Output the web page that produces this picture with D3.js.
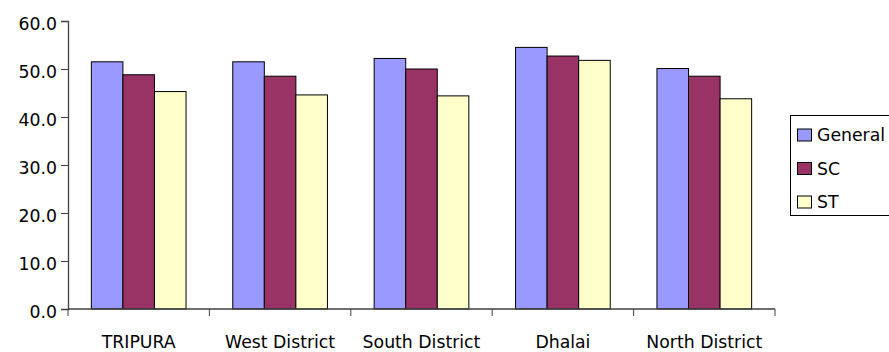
<!DOCTYPE html>
<html>
<head>
<meta charset="utf-8">
<script src="https://cdn.jsdelivr.net/npm/d3@7"></script>
<style>
  html, body { margin: 0; padding: 0; background: #fff; }
  svg { display: block; font-family: "DejaVu Sans", sans-serif; }
</style>
</head>
<body>
<svg id="chart" width="889" height="352"></svg>
<script>
// Categories and series values
const categories = ["TRIPURA", "West District", "South District", "Dhalai", "North District"];
const seriesNames = ["General", "SC", "ST"];
const general = [51.5, 51.5, 52.2, 54.5, 50.1];
const sc = [48.8, 48.5, 50.0, 52.7, 48.5];
const st = [45.3, 44.6, 44.4, 51.8, 43.8];
const yTicks = [0, 10, 20, 30, 40, 50, 60];
const colors = ["#9999FF", "#993366", "#FFFFCC"];

const values = [general, sc, st];
const fontSize = 17.3;

const svg = d3.select("#chart");
const plot = { left: 68, right: 775, top: 21, bottom: 309 };

const x = d3.scaleBand().domain(categories).range([plot.left, plot.right]).padding(0);
const inner = d3.scaleBand().domain(seriesNames)
  .range([0, x.bandwidth()]).paddingInner(0).paddingOuter(0.74);
const y = d3.scaleLinear().domain([0, 60]).range([plot.bottom, plot.top]);

// Bars
categories.forEach((cat, i) => {
  const g = svg.append("g").attr("transform", `translate(${x(cat)},0)`);
  seriesNames.forEach((s, j) => {
    const v = values[j][i];
    g.append("rect")
      .attr("x", inner(s))
      .attr("y", y(v))
      .attr("width", inner.bandwidth())
      .attr("height", y(0) - y(v))
      .attr("fill", colors[j])
      .attr("stroke", "#000")
      .attr("stroke-width", 1);
  });
});

// Y axis
const yAxis = d3.axisLeft(y).tickValues(yTicks).tickFormat(d3.format(".1f")).tickSize(7).tickPadding(4);
const yg = svg.append("g").attr("transform", `translate(${plot.left},0)`).call(yAxis);
yg.select(".domain").attr("stroke", "#404040").attr("stroke-width", 1.3);
yg.selectAll(".tick line").attr("stroke", "#404040");
yg.selectAll(".tick text").attr("font-size", fontSize).attr("fill", "#000")
  .attr("font-family", "DejaVu Sans, sans-serif").attr("dy", "0.47em");

// X axis: ticks at category boundaries
const boundaries = categories.map(c => x(c)).concat([plot.right]);
const xg = svg.append("g");
xg.append("line").attr("x1", plot.left).attr("x2", plot.right)
  .attr("y1", plot.bottom).attr("y2", plot.bottom)
  .attr("stroke", "#404040").attr("stroke-width", 1.3);
xg.selectAll("line.tk").data(boundaries).enter().append("line")
  .attr("class", "tk")
  .attr("x1", d => d).attr("x2", d => d)
  .attr("y1", plot.bottom).attr("y2", plot.bottom + 7)
  .attr("stroke", "#404040");
xg.selectAll("text").data(categories).enter().append("text")
  .attr("x", d => x(d) + x.bandwidth() / 2)
  .attr("y", 348)
  .attr("text-anchor", "middle")
  .attr("font-size", fontSize)
  .attr("fill", "#000")
  .text(d => d);

// Legend
const legend = svg.append("g");
legend.append("rect").attr("x", 790.5).attr("y", 115.5).attr("width", 110).attr("height", 100)
  .attr("fill", "#fff").attr("stroke", "#000").attr("stroke-width", 1);
seriesNames.forEach((s, j) => {
  const cy = 135 + j * 33.5;
  legend.append("rect").attr("x", 797.5).attr("y", cy - 6).attr("width", 14).attr("height", 12)
    .attr("fill", colors[j]).attr("stroke", "#000");
  legend.append("text").attr("x", 817).attr("y", cy + 6)
    .attr("font-size", fontSize).attr("fill", "#000").text(s);
});
</script>
</body>
</html>
